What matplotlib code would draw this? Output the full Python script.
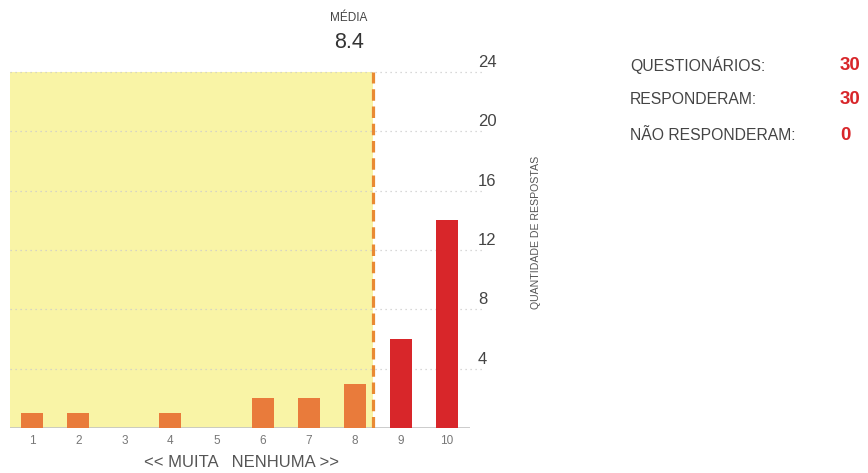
import matplotlib
matplotlib.use("Agg")
import matplotlib.pyplot as plt

plt.rcParams['font.family'] = ['Liberation Sans', 'DejaVu Sans']

scores = [1, 2, 3, 4, 5, 6, 7, 8, 9, 10]
counts = [1, 1, 0, 1, 0, 2, 2, 3, 6, 14]
mean_value = 8.4
yticks = [4, 8, 12, 16, 20, 24]
summary_labels = ["QUESTIONÁRIOS:", "RESPONDERAM:", "NÃO RESPONDERAM:"]
summary_values = ["30", "30", "0"]

W, H = 868, 473
fig = plt.figure(figsize=(W / 100, H / 100), dpi=100)
ax = fig.add_axes([10 / W, 1 - 428 / H, 460 / W, (428 - 72) / H])
ax.set_xlim(0.52, 10.5)
ax.set_ylim(0, 24)

yellow = "#f9f4a6"
orange = "#e97b3b"
red = "#d8262a"
dash_col = "#e98a33"

ax.axvspan(0.52, mean_value, ymin=0, ymax=1, color=yellow, zorder=0, lw=0)

for t in yticks:
    ax.plot([0.52, 10.75], [t, t], ls=(0, (1, 3)), color="#cccccc", lw=0.9,
            zorder=1, clip_on=False)

colors = [red if s > mean_value else orange for s in scores]
ax.bar(scores, counts, width=0.48, color=colors, zorder=3)

ax.plot([mean_value, mean_value], [0, 24], ls=(0, (3.6, 1.8)), color=dash_col,
        lw=2.3, zorder=4)

ax.axhline(0, color="#c4c4c4", lw=1.2, zorder=2)

for s in ["top", "right", "left", "bottom"]:
    ax.spines[s].set_visible(False)
ax.set_yticks([])
ax.set_xticks(scores)
ax.set_xticklabels([str(s) for s in scores], fontsize=8.5, color="#777777")
ax.tick_params(axis="x", length=0, pad=5)

for t in yticks:
    ax.annotate(str(t), xy=(1.0, t), xycoords=("axes fraction", "data"),
                xytext=(8, 9.5), textcoords="offset pixels",
                fontsize=12, color="#444444", ha="left", va="center")

fig.text(536 / W, 1 - 232 / H, "QUANTIDADE DE RESPOSTAS", rotation=90,
         fontsize=7.6, color="#555555", ha="center", va="center")

fig.text(242 / W, 1 - 462 / H, "<< MUITA   NENHUMA >>", fontsize=12,
         color="#555555", ha="center", va="center")

fig.text(349 / W, 1 - 18 / H, "MÉDIA", fontsize=8.5, color="#444444",
         ha="center", va="center")
fig.text(349 / W, 1 - 42 / H, f"{mean_value}", fontsize=15.5, color="#333333",
         ha="center", va="center")

ys = [65, 100, 135]
for lab, val, y in zip(summary_labels, summary_values, ys):
    fig.text(630 / W, 1 - y / H, lab, fontsize=11.3, color="#444444",
             ha="left", va="center")
    fig.text(840 / W, 1 - y / H, val, fontsize=13.5, color=red,
             fontweight="bold", ha="left", va="center")

fig.savefig("out.png", dpi=100)
